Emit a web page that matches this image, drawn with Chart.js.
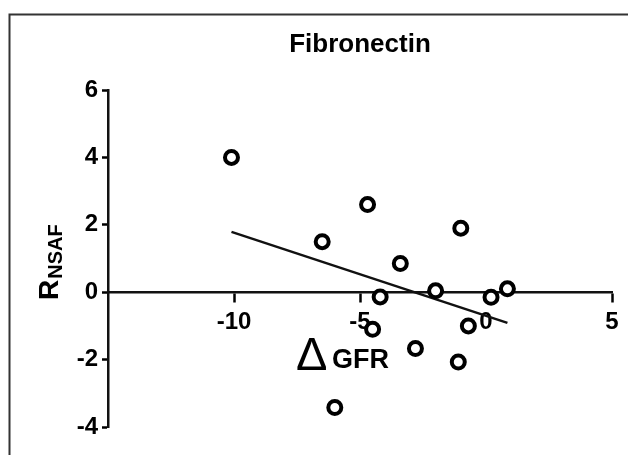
<!DOCTYPE html>
<html>
<head>
<meta charset="utf-8">
<script src="https://cdn.jsdelivr.net/npm/chart.js@4.4.0/dist/chart.umd.min.js"></script>
<style>
  body { margin: 0; background: #fff; }
  canvas { display: block; }
</style>
</head>
<body>
<canvas id="fnChart" width="628" height="455"></canvas>
<script>
// data
var gfrDelta = [-10.1, -6.5, -4.7, -4.5, -4.2, -6.0, -3.4, -2.8, -2.0, -1.1, -1.0, -0.7, 0.2, 0.85];
var rNsaf = [4.0, 1.5, 2.6, -1.1, -0.14, -3.42, 0.85, -1.67, 0.04, -2.07, 1.9, -1.0, -0.15, 0.1];
var fitX = [-10.1, 0.85];
var fitY = [1.79, -0.91];
var xTicks = [-10, -5, 0, 5];
var yTicks = [-4, -2, 0, 2, 4, 6];

var FONT = "'Liberation Sans', Arial, sans-serif";
Chart.defaults.font.family = FONT;
Chart.defaults.color = '#000';

var points = gfrDelta.map((x, i) => ({ x: x, y: rNsaf[i] }));
var fitLine = fitX.map((x, i) => ({ x: x, y: fitY[i] }));

// frame + title + axis titles
var labelsPlugin = {
    id: 'labels',
    beforeDraw(chart) {
        var c = chart.ctx;
        c.save();
        c.fillStyle = '#fff';
        c.fillRect(0, 0, chart.width, chart.height);
        c.strokeStyle = '#333';
        c.lineWidth = 2;
        c.beginPath();
        c.moveTo(9.5, chart.height);
        c.lineTo(9.5, 14.5);
        c.lineTo(chart.width, 14.5);
        c.stroke();
        c.restore();
    },
    afterDraw(chart) {
        var c = chart.ctx;
        var area = chart.chartArea;
        c.save();
        c.fillStyle = '#000';
        c.textBaseline = 'alphabetic';

        // title
        c.textAlign = 'center';
        c.font = 'bold 26px ' + FONT;
        c.fillText('Fibronectin', (area.left + area.right) / 2, 52);

        // x title: big thin delta + GFR
        c.textAlign = 'left';
        c.font = '47px ' + FONT;
        c.fillText('\u0394', 296, 370);
        c.font = 'bold 27px ' + FONT;
        c.fillText('GFR', 332, 368);

        // y title: R with subscript NSAF, rotated
        c.translate(58, 300);
        c.rotate(-Math.PI / 2);
        c.font = 'bold 28px ' + FONT;
        c.fillText('R', 0, 0);
        var rw = c.measureText('R').width;
        c.font = 'bold 20px ' + FONT;
        c.fillText('NSAF', rw + 1, 4);
        c.restore();
    }
};

var ctx = document.getElementById('fnChart').getContext('2d');
var fnChart = new Chart(ctx, {
    type: 'scatter',
    data: {
        datasets: [{
            data: points,
            order: 0,
            pointRadius: 6.5,
            pointHoverRadius: 6.5,
            pointBorderWidth: 4,
            borderColor: '#000',
            backgroundColor: '#fff'
        }, {
            type: 'line',
            data: fitLine,
            order: 1,
            showLine: true,
            pointRadius: 0,
            borderColor: '#111',
            borderWidth: 2.5,
            fill: false
        }]
    },
    options: {
        responsive: false,
        animation: false,
        layout: { padding: { left: 0, top: 90, right: 16, bottom: 28 } },
        plugins: {
            legend: { display: false },
            tooltip: { enabled: false }
        },
        scales: {
            x: {
                type: 'linear',
                position: { y: 0 },
                min: -15,
                max: 5,
                afterBuildTicks: scale => { scale.ticks = xTicks.map(v => ({ value: v })); },
                grid: { drawOnChartArea: false, drawTicks: true, tickLength: 9, tickColor: '#000', tickWidth: 2.5 },
                border: { display: true, color: '#111', width: 2.5 },
                ticks: { font: { size: 24, weight: 'bold' }, color: '#000', padding: 7, maxRotation: 0 }
            },
            y: {
                type: 'linear',
                position: 'left',
                min: -4,
                max: 6,
                afterBuildTicks: scale => { scale.ticks = yTicks.map(v => ({ value: v })); },
                afterFit: scale => { scale.width = 108; },
                grid: { drawOnChartArea: false, drawTicks: true, tickLength: 6, tickColor: '#000', tickWidth: 2.5 },
                border: { display: true, color: '#111', width: 2.5 },
                ticks: { font: { size: 24, weight: 'bold' }, color: '#000', padding: 4 }
            }
        }
    },
    plugins: [labelsPlugin]
});
</script>
</body>
</html>
